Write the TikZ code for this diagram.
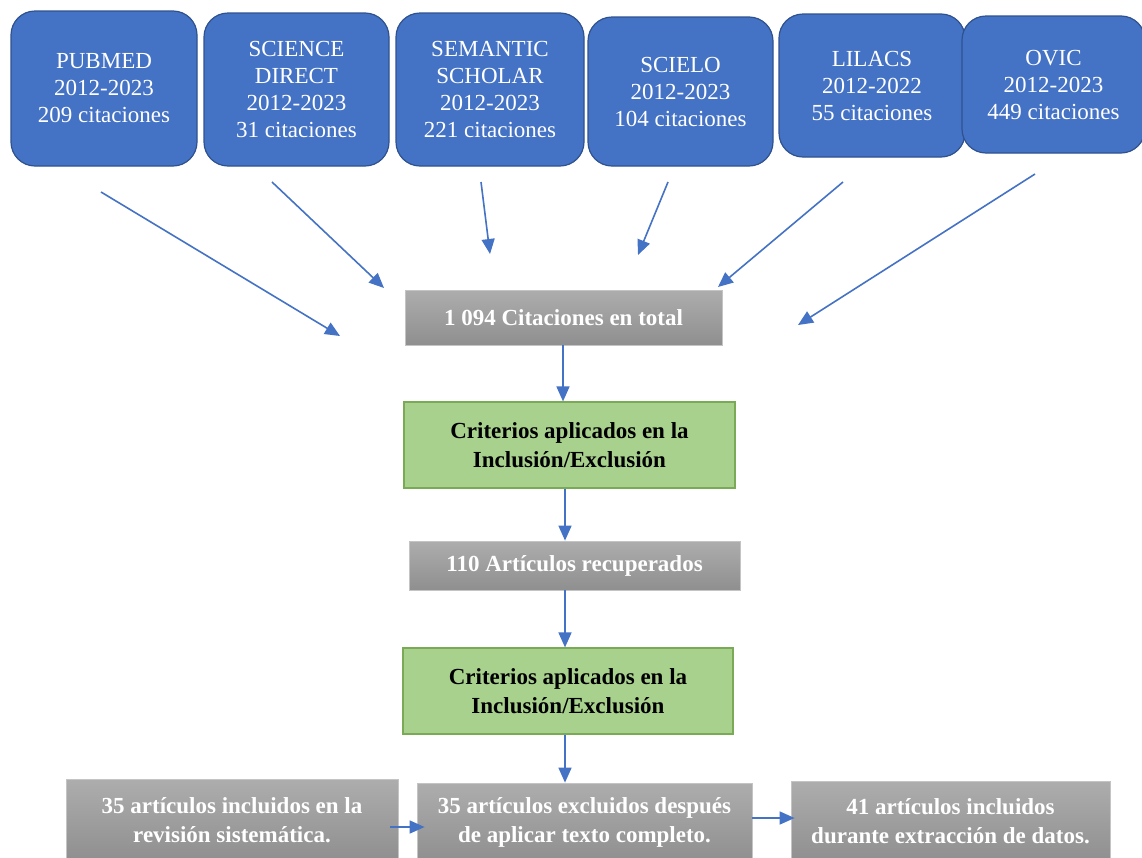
\documentclass[tikz,border=0pt]{standalone}
\usepackage{fontspec}
\setmainfont{Liberation Serif}
\usetikzlibrary{arrows.meta}
\definecolor{bfill}{HTML}{4472C4}
\definecolor{bdraw}{HTML}{2F528F}
\definecolor{gfill}{HTML}{A9D18E}
\definecolor{gdraw}{HTML}{7AAA55}
\definecolor{grtop}{HTML}{ADADAD}
\definecolor{grbot}{HTML}{8F8F8F}
\definecolor{grdraw}{HTML}{C4C4C4}
\definecolor{arrc}{HTML}{4472C4}
\tikzset{
  src/.style={draw=bdraw, line width=1.2pt, fill=bfill, rounded corners=24pt,
    inner sep=0pt, align=center, text=white,
    font=\fontsize{23}{27}\selectfont},
  graybox/.style={draw=grdraw, line width=0.8pt, top color=grtop, bottom color=grbot,
    inner sep=0pt, align=center, text=white,
    font=\fontsize{23}{29}\selectfont\bfseries},
  greenbox/.style={draw=gdraw, line width=1.2pt, fill=gfill,
    inner sep=0pt, align=center, text=black,
    font=\fontsize{23}{29}\selectfont\bfseries},
  arr/.style={draw=arrc, line width=1.6pt, -{Triangle[length=15pt,width=13pt]}, color=arrc},
}
\begin{document}
\begin{tikzpicture}[x=1pt,y=-1pt]
\useasboundingbox (0,0) rectangle (1142,857);
\begin{scope}
\clip (0,0) rectangle (1142,857);
% source boxes
\node[src, minimum width=186pt, minimum height=155pt] (pub) at (104,88.5) {PUBMED\\2012-2023\\209 citaciones};
\node[src, minimum width=185pt, minimum height=153pt] (sci) at (296.5,89.5) {SCIENCE\\DIRECT\\2012-2023\\31 citaciones};
\node[src, minimum width=188pt, minimum height=153pt] (sem) at (490,89.5) {SEMANTIC\\SCHOLAR\\2012-2023\\221 citaciones};
\node[src, minimum width=185pt, minimum height=149pt] (scl) at (680.5,91.5) {SCIELO\\2012-2023\\104 citaciones};
\node[src, minimum width=186pt, minimum height=143pt] (lil) at (872,85.5) {LILACS\\2012-2022\\55 citaciones};
\node[src, minimum width=183pt, minimum height=137pt] (ovc) at (1053.5,84.5) {OVIC\\2012-2023\\449 citaciones};

% flow boxes
\node[graybox, minimum width=317pt, minimum height=55pt] (tot) at (563.5,317.5) {1 094 Citaciones en total};
\node[greenbox, minimum width=331pt, minimum height=86pt] (g1) at (569.5,445) {Criterios aplicados en la\\Inclusión/Exclusión};
\node[graybox, minimum width=331pt, minimum height=49pt] (rec) at (574.5,565.5) {110 Artículos recuperados};
\node[greenbox, minimum width=330pt, minimum height=86pt] (g2) at (568,691) {Criterios aplicados en la\\Inclusión/Exclusión};
\node[graybox, minimum width=332pt, minimum height=82pt] (inc) at (232,820) {35 artículos incluidos en la\\revisión sistemática.};
\node[graybox, minimum width=335pt, minimum height=79pt] (exc) at (584.5,822.5) {35 artículos excluidos después\\de aplicar texto completo.};
\node[graybox, minimum width=319pt, minimum height=81pt] (ext) at (950.5,821.5) {41 artículos incluidos\\durante extracción de datos.};

% coordinates for free-ended arrows
\coordinate (a1s) at (101,192); \coordinate (a1e) at (340,336);
\coordinate (a2s) at (272,182); \coordinate (a2e) at (384,288);
\coordinate (a3s) at (481,182); \coordinate (a3e) at (490,254);
\coordinate (a4s) at (668,182); \coordinate (a4e) at (638,255);
\coordinate (a5s) at (843,182); \coordinate (a5e) at (718,287);
\coordinate (a6s) at (1035,174); \coordinate (a6e) at (798,325);
\draw[arr] (a1s) -- (a1e);
\draw[arr] (a2s) -- (a2e);
\draw[arr] (a3s) -- (a3e);
\draw[arr] (a4s) -- (a4e);
\draw[arr] (a5s) -- (a5e);
\draw[arr] (a6s) -- (a6e);

% vertical flow arrows
\coordinate (vx1) at (563,0);
\coordinate (vx2) at (565,0);
\draw[arr] (tot.south -| vx1) -- (g1.north -| vx1);
\draw[arr] (g1.south -| vx2) -- (rec.north -| vx2);
\draw[arr] (rec.south -| vx2) -- (g2.north -| vx2);
\draw[arr] (g2.south -| vx2) -- (exc.north -| vx2);

% horizontal arrows
\coordinate (hy1) at (0,827);
\coordinate (hy2) at (0,818);
\draw[arr] ([xshift=-8pt]inc.east |- hy1) -- ([xshift=8pt]exc.west |- hy1);
\draw[arr] (exc.east |- hy2) -- ([xshift=4pt]ext.west |- hy2);
\end{scope}
\end{tikzpicture}
\end{document}
